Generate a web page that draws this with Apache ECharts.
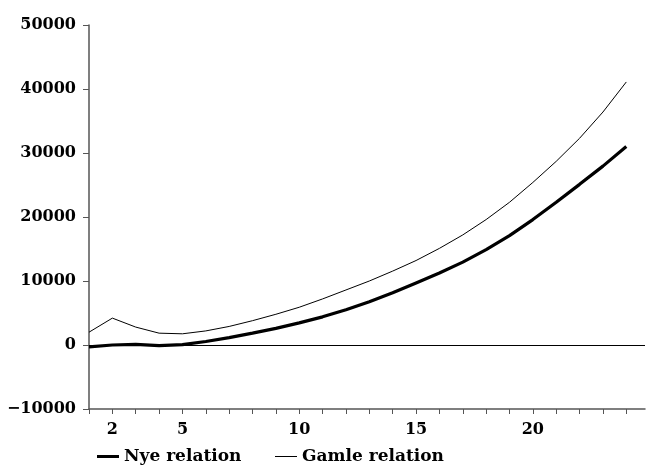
<!DOCTYPE html>
<html>
<head>
<meta charset="utf-8">
<script src="https://cdn.jsdelivr.net/npm/echarts@6/dist/echarts.min.js"></script>
<style>html,body{margin:0;padding:0;background:#fff}#c{width:646px;height:466px}</style>
</head>
<body>
<div id="c"></div>
<script>
var xs = [1,2,3,4,5,6,7,8,9,10,11,12,13,14,15,16,17,18,19,20,21,22,23,24];
var nye = [-300,0,100,-100,50,550,1150,1850,2600,3450,4400,5500,6750,8150,9700,11250,12950,14900,17100,19600,22300,25100,27950,31000];
var gamle = [2000,4200,2800,1850,1750,2200,2900,3800,4800,5900,7200,8600,10000,11550,13200,15100,17200,19600,22300,25400,28700,32300,36400,41100];
var xTickLabels = [2,5,10,15,20];

var font = 'DejaVu Serif';
function pairs(v){ return xs.map(function(x,i){ return [x, v[i]]; }); }
var legendText = {fontFamily: font, fontWeight: 'bold', fontSize: 17, color: '#000'};
var chart = echarts.init(document.getElementById('c'));
chart.setOption({
  animation: false,
  textStyle: {fontFamily: font},
  grid: {left: 89, right: 1, top: 25, bottom: 57},
  legend: [
    {top: 448, left: 97, padding: 0, itemWidth: 22, itemHeight: 3, icon: 'rect', itemGap: 0,
     textStyle: legendText, data: ['Nye relation']},
    {top: 448, left: 275, padding: 0, itemWidth: 22, itemHeight: 1, icon: 'rect', itemGap: 0,
     textStyle: legendText, data: ['Gamle relation']}
  ],
  xAxis: {
    type: 'value', min: 1, max: 24.8,
    splitLine: {show: false},
    axisLine: {show: true, onZero: false, lineStyle: {color: '#555', width: 1.5}},
    axisTick: {show: true, length: 5, customValues: xs, lineStyle: {color: '#555'}},
    axisLabel: {customValues: xTickLabels, margin: 13, color: '#000', fontFamily: font, fontWeight: 'bold', fontSize: 16}
  },
  yAxis: {
    type: 'value', min: -10000, max: 50000, interval: 10000,
    splitLine: {show: false},
    axisLine: {show: true, lineStyle: {color: '#555', width: 1.5}},
    axisTick: {show: true, length: 6, lineStyle: {color: '#555'}},
    axisLabel: {margin: 13, color: '#000', fontFamily: font, fontWeight: 'bold', fontSize: 16,
      formatter: function(v){ return v < 0 ? '\u2212' + Math.abs(v) : String(v); }}
  },
  series: [
    {name: 'Nye relation', type: 'line', data: pairs(nye), symbol: 'none',
     lineStyle: {color: '#000', width: 3.2}, itemStyle: {color: '#000'},
     markLine: {silent: true, symbol: 'none', label: {show: false},
       lineStyle: {color: '#000', width: 1, type: 'solid'}, data: [{yAxis: 0}]}},
    {name: 'Gamle relation', type: 'line', data: pairs(gamle), symbol: 'none',
     lineStyle: {color: '#000', width: 1}, itemStyle: {color: '#000'}}
  ]
});
</script>
</body>
</html>
